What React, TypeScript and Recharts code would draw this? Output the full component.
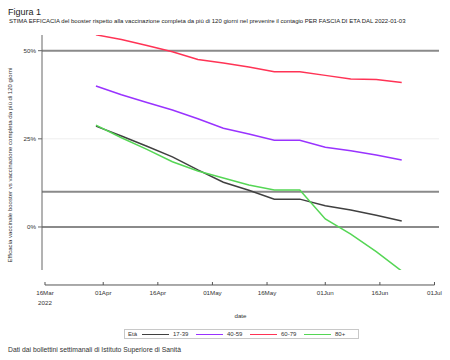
import React from 'react';
import { LineChart, Line, XAxis, YAxis, ReferenceLine, Legend } from 'recharts';

const dates = ['2022-03-30','2022-04-06','2022-04-13','2022-04-20','2022-04-27','2022-05-04','2022-05-11','2022-05-18','2022-05-25','2022-06-01','2022-06-08','2022-06-15','2022-06-22'];
const age1739 = [28.6, 25.8, 22.9, 19.9, 16.2, 12.7, 10.4, 7.9, 7.9, 6.0, 4.8, 3.3, 1.7];
const age4059 = [40.0, 37.5, 35.3, 33.2, 30.7, 28.0, 26.4, 24.6, 24.6, 22.6, 21.6, 20.4, 19.0];
const age6079 = [54.5, 53.2, 51.5, 49.7, 47.5, 46.5, 45.4, 44.0, 44.0, 43.0, 42.0, 41.8, 41.0];
const age80 = [28.9, 25.3, 22.0, 18.5, 15.9, 13.9, 11.9, 10.5, 10.5, 2.3, -2.0, -7.0, -12.5];

const tickDates = ['2022-03-16','2022-04-01','2022-04-16','2022-05-01','2022-05-16','2022-06-01','2022-06-16','2022-07-01'];
const tickLabels = ['16Mar','01Apr','16Apr','01May','16May','01Jun','16Jun','01Jul'];
const yTicks = [0, 25, 50];
const refLines = [0, 10, 50];
const faintGrid = [25];

const seriesNames = ['17-39', '40-59', '60-79', '80+'];
const seriesKeys = ['a', 'b', 'c', 'd'];
const seriesColors = ['#404040', '#9933ff', '#ff3355', '#55d655'];

const DAY = 86400000;
const ts = (s: string) => Date.parse(s + 'T00:00:00Z');
const tickTs = tickDates.map(ts);
const xDomain = [tickTs[0] - 0.82 * DAY, tickTs[tickTs.length - 1] + 1.24 * DAY];
const yDomain = [-12.2, 54.45];
const axisLineValue = -16.45;

const data = dates.map((d, i) => ({
  t: ts(d),
  a: age1739[i],
  b: age4059[i],
  c: age6079[i],
  d: age80[i],
}));

const FONT = '"Liberation Sans", Arial, sans-serif';

const XTick = (props: any) => {
  const { x, y, payload } = props;
  const idx = tickTs.indexOf(payload.value);
  const label = idx >= 0 ? tickLabels[idx] : '';
  return (
    <g>
      <line x1={x} x2={x} y1={y + 12} y2={y + 15} stroke="#555" strokeWidth={1} />
      <text x={x} y={y + 25} textAnchor="middle" fontSize={6.2} fill="#333" fontFamily={FONT}>{label}</text>
      {idx === 0 && (
        <text x={x} y={y + 35} textAnchor="middle" fontSize={6.2} fill="#333" fontFamily={FONT}>2022</text>
      )}
    </g>
  );
};

const LegendContent = (props: any) => {
  const { payload } = props;
  return (
    <div style={{ display: 'flex', alignItems: 'center', border: '1px solid #c8c8c8', height: 8, boxSizing: 'content-box', fontFamily: FONT, fontSize: 6, color: '#333', paddingLeft: 3, width: 230 }}>
      <span style={{ marginRight: 0, width: 19 }}>Età</span>
      {(payload || []).map((p: any, i: number) => (
        <span key={i} style={{ display: 'flex', alignItems: 'center' }}>
          <span style={{ display: 'inline-block', width: 27, height: 0, borderTop: `1.5px solid ${p.color}`, marginRight: 4 }} />
          <span style={{ width: 23 }}>{p.value}</span>
        </span>
      ))}
    </div>
  );
};

export default function App() {
  return (
    <div style={{ position: 'absolute', left: 0, top: 0, width: 450, height: 360, background: '#fff', fontFamily: FONT }}>
      <div style={{ position: 'absolute', left: 8, top: 7, fontSize: 9, color: '#222', lineHeight: '11px' }}>Figura 1</div>
      <div style={{ position: 'absolute', left: 9, top: 17, fontSize: 6, color: '#222', lineHeight: '8px', whiteSpace: 'nowrap' }}>
        STIMA EFFICACIA del booster rispetto alla vaccinazione completa da più di 120 giorni nel prevenire il contagio PER FASCIA DI ETA DAL 2022-01-03
      </div>
      <div style={{ position: 'absolute', left: 10, top: 165, width: 0, height: 0 }}>
        <div style={{ position: 'absolute', transform: 'translate(-50%, -50%) rotate(-90deg)', fontSize: 6.05, color: '#333', whiteSpace: 'nowrap', lineHeight: '7px' }}>
          Efficacia vaccinale booster vs vaccinazione completa da più di 120 giorni
        </div>
      </div>
      <div style={{ position: 'absolute', left: 8, top: 346, fontSize: 6.8, color: '#333', lineHeight: '8px', whiteSpace: 'nowrap' }}>
        Dati dai bollettini settimanali di Istituto Superiore di Sanità
      </div>
      <LineChart width={450} height={360} data={data} margin={{ top: 35, right: 11, bottom: 50, left: 0 }} style={{ position: 'absolute', left: 0, top: 0 }}>
        {faintGrid.map((v) => (
          <ReferenceLine key={'g' + v} y={v} stroke="#eeeeee" strokeWidth={1} />
        ))}
        {refLines.map((v) => (
          <ReferenceLine key={'r' + v} y={v} stroke="#8a8a8a" strokeWidth={2} />
        ))}
        <ReferenceLine
          segment={[{ x: tickTs[0], y: axisLineValue }, { x: tickTs[tickTs.length - 1], y: axisLineValue }]}
          stroke="#555"
          strokeWidth={1}
          ifOverflow="visible"
        />
        <XAxis
          dataKey="t"
          type="number"
          domain={xDomain}
          ticks={tickTs}
          axisLine={false}
          tickLine={false}
          tickSize={0}
          tickMargin={0}
          height={30}
          tick={<XTick />}
          interval={0}
          allowDataOverflow
          label={{ value: 'date', position: 'insideBottom', offset: -18, fontSize: 6.2, fill: '#333', fontFamily: FONT }}
        />
        <YAxis
          type="number"
          domain={yDomain}
          ticks={yTicks}
          width={42}
          allowDataOverflow
          axisLine={{ stroke: '#666' }}
          tickLine={{ stroke: '#666' }}
          tickSize={4}
          tickMargin={2}
          tickFormatter={(v: number) => `${v}%`}
          tick={{ fontSize: 6.2, fill: '#333', fontFamily: FONT }}
        />
        {seriesKeys.map((k, i) => (
          <Line
            key={k}
            dataKey={k}
            name={seriesNames[i]}
            stroke={seriesColors[i]}
            strokeWidth={1.5}
            dot={false}
            type="linear"
            isAnimationActive={false}
          />
        ))}
        <Legend
          content={<LegendContent />}
          wrapperStyle={{ position: 'absolute', left: 124, top: 329, width: 'auto' }}
        />
      </LineChart>
    </div>
  );
}
